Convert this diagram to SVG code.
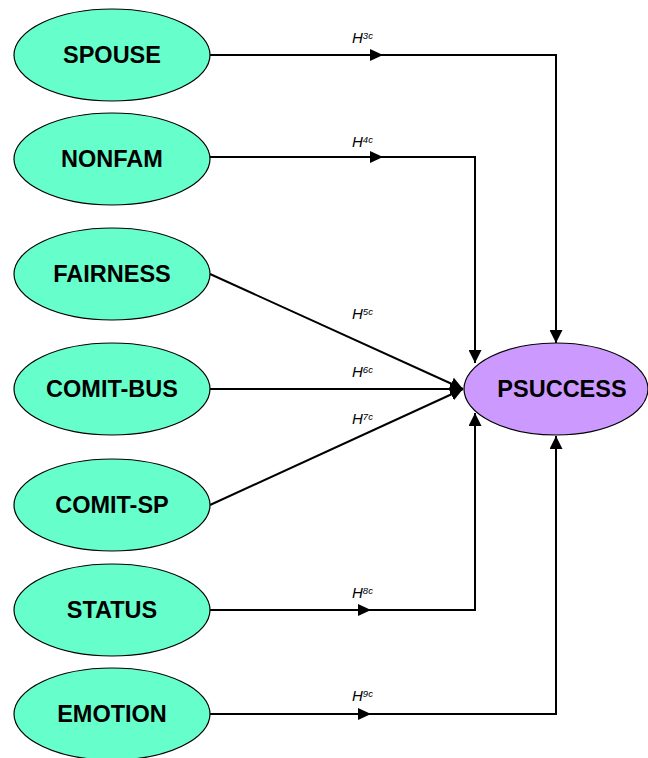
<svg xmlns="http://www.w3.org/2000/svg" width="648" height="758" viewBox="0 0 648 758">
  <style>
    .src { fill: #66FFCC; stroke: #000; stroke-width: 1.2; }
    .dst { fill: #CC99FF; stroke: #000; stroke-width: 1.2; }
    .lbl { font-family: "Liberation Sans", Arial, sans-serif; font-weight: bold; font-size: 23.5px; fill: #000; text-anchor: middle; dominant-baseline: central; }
    .edge { fill: none; stroke: #000; stroke-width: 2; }
    .mid { fill: #000; stroke: none; }
    .hyp { font-family: "Liberation Sans", Arial, sans-serif; font-style: italic; font-size: 15px; fill: #000; }
    .hyp tspan { font-size: 9.5px; }
  </style>
  <defs>
    <marker id="arrow" viewBox="0 0 10 10" refX="10" refY="5" markerWidth="6.5" markerHeight="6.5" markerUnits="strokeWidth" orient="auto">
      <path d="M0,0 L10,5 L0,10 Z" fill="#000"/>
    </marker>
  </defs>

  <rect width="648" height="758" fill="#fff"/>

  <g id="connectors">
    <path class="edge" d="M210,55 H556 V343" marker-end="url(#arrow)"/>
    <path class="edge" d="M210,157 H475 V363" marker-end="url(#arrow)"/>
    <path class="edge" d="M210,274 L463,389" marker-end="url(#arrow)"/>
    <path class="edge" d="M210,389 L463,389" marker-end="url(#arrow)"/>
    <path class="edge" d="M210,505 L463,389" marker-end="url(#arrow)"/>
    <path class="edge" d="M210,610 H475 V413" marker-end="url(#arrow)"/>
    <path class="edge" d="M210,714 H556 V436" marker-end="url(#arrow)"/>
    <!-- mid-line arrowheads -->
    <path class="mid" d="M370,49 L383,55 L370,61 Z"/>
    <path class="mid" d="M370,151 L383,157 L370,163 Z"/>
    <path class="mid" d="M358,604 L371,610 L358,616 Z"/>
    <path class="mid" d="M358,708 L371,714 L358,720 Z"/>
    <!-- hypothesis labels -->
    <text class="hyp" x="352" y="43">H<tspan dy="-4">3c</tspan></text>
    <text class="hyp" x="352" y="147">H<tspan dy="-4">4c</tspan></text>
    <text class="hyp" x="352" y="319">H<tspan dy="-4">5c</tspan></text>
    <text class="hyp" x="352" y="377">H<tspan dy="-4">6c</tspan></text>
    <text class="hyp" x="352" y="424">H<tspan dy="-4">7c</tspan></text>
    <text class="hyp" x="352" y="598">H<tspan dy="-4">8c</tspan></text>
    <text class="hyp" x="352" y="701">H<tspan dy="-4">9c</tspan></text>
  </g>

  <g id="spouse">
    <ellipse class="src" cx="112" cy="55" rx="98" ry="46"/>
    <text class="lbl" x="112" y="55">SPOUSE</text>
  </g>
  <g id="nonfam">
    <ellipse class="src" cx="112" cy="159" rx="98" ry="46"/>
    <text class="lbl" x="112" y="159">NONFAM</text>
  </g>
  <g id="fairness">
    <ellipse class="src" cx="112" cy="274" rx="98" ry="46"/>
    <text class="lbl" x="112" y="274">FAIRNESS</text>
  </g>
  <g id="comit-bus">
    <ellipse class="src" cx="112" cy="389" rx="98" ry="46"/>
    <text class="lbl" x="112" y="389">COMIT-BUS</text>
  </g>
  <g id="comit-sp">
    <ellipse class="src" cx="112" cy="505" rx="98" ry="46"/>
    <text class="lbl" x="112" y="505">COMIT-SP</text>
  </g>
  <g id="status">
    <ellipse class="src" cx="112" cy="610" rx="98" ry="46"/>
    <text class="lbl" x="112" y="610">STATUS</text>
  </g>
  <g id="emotion">
    <ellipse class="src" cx="112" cy="714" rx="98" ry="46"/>
    <text class="lbl" x="112" y="714">EMOTION</text>
  </g>
  <g id="psuccess">
    <ellipse class="dst" cx="556" cy="389" rx="92" ry="46"/>
    <text class="lbl" x="562" y="389">PSUCCESS</text>
  </g>
</svg>
